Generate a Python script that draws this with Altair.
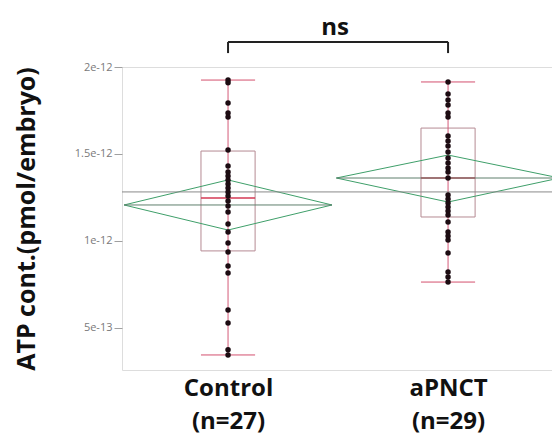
import json
import altair as alt
import pandas as pd

# ---------------- data (units: 1e-12 pmol/embryo) ----------------
GROUPS = ["Control", "aPNCT"]
N_LABELS = ["(n=27)", "(n=29)"]
N = [27, 29]

CONTROL = [1.925, 1.910, 1.793, 1.736, 1.713, 1.523, 1.431, 1.397, 1.374, 1.351,
           1.328, 1.305, 1.282, 1.259, 1.230, 1.201, 1.167, 1.098, 1.052, 0.989,
           0.937, 0.856, 0.816, 0.603, 0.529, 0.375, 0.345]
APNCT = [1.914, 1.845, 1.810, 1.782, 1.736, 1.713, 1.603, 1.575, 1.546, 1.511,
         1.477, 1.448, 1.420, 1.397, 1.362, 1.264, 1.241, 1.218, 1.195, 1.172,
         1.149, 1.109, 1.052, 1.029, 1.006, 0.931, 0.822, 0.793, 0.764]

MEANS = [1.207, 1.362]
CI_LO = [1.063, 1.224]
CI_HI = [1.351, 1.494]
Q1 = [0.943, 1.138]
MEDIAN = [1.247, 1.362]
Q3 = [1.517, 1.649]
WHISK_LO = [0.345, 0.764]
WHISK_HI = [1.925, 1.914]
GRAND_MEAN = 1.282

Y_TICKS = [0.5, 1.0, 1.5, 2.0]
Y_TICK_LABELS = ["5e-13", "1e-12", "1.5e-12", "2e-12"]
SIG_LABEL = "ns"

# ---------------- geometry / styling ----------------
BOX_HW = 0.123          # half width of box (x units)
DIAMOND_K = 0.0175      # diamond half width per observation
BR_Y, BR_Y2 = 2.144, 2.080
NS_Y = 2.225

FONT = "Open Sans"
xs = alt.Scale(domain=[0.518, 2.4725], nice=False, zero=False)
ys = alt.Scale(domain=[0.2586, 2.0], nice=False, zero=False)

ylab_expr = " : ".join(
    f"datum.value == {v} ? {json.dumps(l)}" for v, l in zip(Y_TICKS, Y_TICK_LABELS)
) + " : ''"
xlab_expr = " : ".join(
    f"datum.value == {i + 1} ? {json.dumps([g, n])}" for i, (g, n) in enumerate(zip(GROUPS, N_LABELS))
) + " : ''"

x_axis = alt.Axis(values=[1, 2], labelExpr=xlab_expr, title=None, ticks=False, domain=False,
                  grid=False, labelFont=FONT, labelFontWeight="bold", labelFontSize=24,
                  labelColor="#111111", labelLineHeight=33, labelPadding=6,
                  labelBaseline="top")
y_axis = alt.Axis(values=Y_TICKS, labelExpr=ylab_expr, title="ATP cont.(pmol/embryo)",
                  grid=False, domain=False, tickColor="#a0a0a0", tickSize=8,
                  labelColor="#7a7a7a", labelFontSize=11, labelFont=FONT, labelPadding=2,
                  titleFont=FONT, titleFontWeight="bold", titleFontSize=25,
                  titleColor="#111111", titleAngle=270, titleX=-96, titleY=151.5,
                  titleAlign="center", titleBaseline="middle")

X = lambda f="x": alt.X(f"{f}:Q", scale=xs, axis=x_axis)
Y = lambda f="y": alt.Y(f"{f}:Q", scale=ys, axis=y_axis)

# points
pts = pd.DataFrame(
    [{"x": 1, "y": v} for v in CONTROL] + [{"x": 2, "y": v} for v in APNCT]
)

summ = pd.DataFrame({
    "pos": [1, 2], "mean": MEANS, "lo": CI_LO, "hi": CI_HI, "q1": Q1, "med": MEDIAN,
    "q3": Q3, "wl": WHISK_LO, "wh": WHISK_HI, "n": N,
})
summ["bl"] = summ["pos"] - BOX_HW
summ["br"] = summ["pos"] + BOX_HW
summ["dl"] = summ["pos"] - summ["n"] * DIAMOND_K
summ["dr"] = summ["pos"] + summ["n"] * DIAMOND_K

# diamond outlines
drows = []
for _, r in summ.iterrows():
    seq = [(r.dl, r["mean"]), (r.pos, r.hi), (r.dr, r["mean"]), (r.pos, r.lo), (r.dl, r["mean"])]
    for k, (xx, yy) in enumerate(seq):
        drows.append({"g": int(r.pos), "o": k, "x": xx, "y": yy})
dia = pd.DataFrame(drows)

base = alt.Chart(summ)

box = base.mark_rect(fillOpacity=0, stroke="#b58a93", strokeWidth=1).encode(
    x=alt.X("bl:Q", scale=xs, axis=x_axis), x2="br:Q",
    y=alt.Y("q1:Q", scale=ys, axis=y_axis), y2="q3:Q")
whisk = base.mark_rule(color="#d45a78", strokeWidth=1).encode(
    x=alt.X("pos:Q", scale=xs, axis=x_axis),
    y=alt.Y("wl:Q", scale=ys, axis=y_axis), y2="wh:Q")
cap_hi = base.mark_rule(color="#d4506e", strokeWidth=1).encode(
    x=alt.X("bl:Q", scale=xs, axis=x_axis), x2="br:Q",
    y=alt.Y("wh:Q", scale=ys, axis=y_axis))
cap_lo = base.mark_rule(color="#d4506e", strokeWidth=1).encode(
    x=alt.X("bl:Q", scale=xs, axis=x_axis), x2="br:Q",
    y=alt.Y("wl:Q", scale=ys, axis=y_axis))
med = base.mark_rule(color="#d43a55", strokeWidth=1.5).encode(
    x=alt.X("bl:Q", scale=xs, axis=x_axis), x2="br:Q",
    y=alt.Y("med:Q", scale=ys, axis=y_axis))
dcenter = base.mark_rule(color="#5f7f6c", strokeWidth=1, clip=True).encode(
    x=alt.X("dl:Q", scale=xs, axis=x_axis), x2="dr:Q",
    y=alt.Y("mean:Q", scale=ys, axis=y_axis))
diamond = alt.Chart(dia).mark_line(color="#3f9f6a", strokeWidth=1, clip=True).encode(
    x=X(), y=Y(), detail="g:N", order="o:Q")
gmean = alt.Chart(pd.DataFrame({"y": [GRAND_MEAN]})).mark_rule(
    color="#8a8a8a", strokeWidth=1).encode(y=Y())
dots = alt.Chart(pts).mark_circle(size=30, color="#1c0c12", opacity=1).encode(x=X(), y=Y())

# significance bracket
br_h = alt.Chart(pd.DataFrame({"x": [1], "x2": [2], "y": [BR_Y]})).mark_rule(
    color="#222222", strokeWidth=2).encode(x=X(), x2="x2:Q", y=Y())
br_v = alt.Chart(pd.DataFrame({"x": [1, 2], "y": [BR_Y, BR_Y], "y2": [BR_Y2, BR_Y2]})).mark_rule(
    color="#222222", strokeWidth=2).encode(x=X(), y=Y(), y2="y2:Q")
ns = alt.Chart(pd.DataFrame({"x": [1.5], "y": [NS_Y], "t": [SIG_LABEL]})).mark_text(
    font=FONT, fontWeight="bold", fontSize=24, color="#111111", dx=-3).encode(
    x=X(), y=Y(), text="t:N")

chart = alt.layer(box, whisk, cap_hi, cap_lo, med, diamond, dcenter, gmean, dots,
                  br_h, br_v, ns).properties(
    width=430, height=303,
    autosize=alt.AutoSizeParams(type="none"),
    padding={"left": 114, "top": 59, "right": 0, "bottom": 68},
).configure_view(stroke="#c8c8c8", strokeWidth=1).configure(background="white")

chart.save("out.html", embed_options={"renderer": "svg", "actions": False})
